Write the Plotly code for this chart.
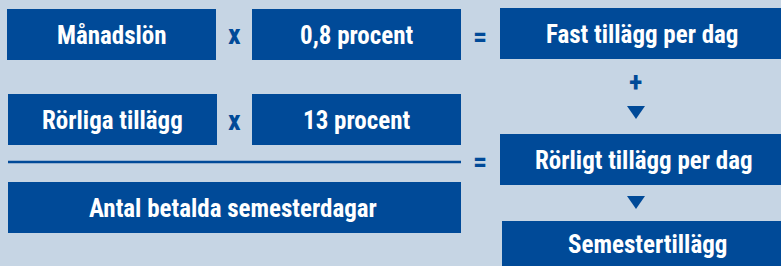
import plotly.graph_objects as go

# Diagram content
box_labels = ["Månadslön", "0,8 procent", "Fast tillägg per dag",
              "Rörliga tillägg", "13 procent", "Rörligt tillägg per dag",
              "Antal betalda semesterdagar", "Semestertillägg"]
# box extents: x0, x1, y0, y1 (pixel space of the 781x266 canvas)
box_x0 = [7, 252, 500, 8, 252, 500, 8, 502]
box_x1 = [216, 461, 781, 217, 461, 781, 461, 781]
box_y0 = [9, 9, 8, 94, 94, 134, 182, 221]
box_y1 = [60, 60, 59, 145, 145, 185, 233, 268]
label_x = [111.5, 356.5, 642, 112.5, 356.5, 644, 233, 647]

op_labels = ["x", "=", "x", "=", "+"]
op_x = [234, 480, 234, 480, 635]
op_y = [34.5, 36, 120.5, 161, 82]

arrow_x = [636, 636]
arrow_y = [106, 196]

BG = "#c6d5e4"
BLUE = "#004a98"
FONT = "Roboto Condensed, DejaVu Sans Condensed, sans-serif"

fig = go.Figure()
fig.add_trace(go.Scatter(x=[0, 781], y=[0, 266], mode="markers",
                         marker=dict(opacity=0), hoverinfo="skip", showlegend=False))

shapes = []
annotations = []
for lab, lx, x0, x1, y0, y1 in zip(box_labels, label_x, box_x0, box_x1, box_y0, box_y1):
    shapes.append(dict(type="rect", xref="x", yref="y", x0=x0, x1=x1, y0=y0, y1=y1,
                       fillcolor=BLUE, line=dict(width=0), layer="above"))
    annotations.append(dict(x=lx, y=(y0 + min(y1, 266)) / 2 + 0.5,
                            xref="x", yref="y", text=lab, showarrow=False,
                            font=dict(family=FONT, size=25, color="white", weight="bold")))

# fraction line
shapes.append(dict(type="line", xref="x", yref="y", x0=8, x1=461, y0=162, y1=162,
                   line=dict(color=BLUE, width=2.5), layer="above"))

for t, x, y in zip(op_labels, op_x, op_y):
    annotations.append(dict(x=x, y=y, xref="x", yref="y", text=t, showarrow=False,
                            font=dict(family=FONT, size=28, color=BLUE, weight="bold")))

for ax, ay in zip(arrow_x, arrow_y):
    shapes.append(dict(type="path", xref="x", yref="y",
                       path=f"M {ax-9},{ay} L {ax+9},{ay} L {ax},{ay+13} Z",
                       fillcolor=BLUE, line=dict(width=0), layer="above"))

fig.update_layout(
    width=781, height=266,
    margin=dict(l=0, r=0, t=0, b=0),
    paper_bgcolor=BG, plot_bgcolor=BG,
    xaxis=dict(range=[0, 781], visible=False, fixedrange=True),
    yaxis=dict(range=[266, 0], visible=False, fixedrange=True),
    shapes=shapes, annotations=annotations,
    showlegend=False,
)
fig.write_html("out.html", config={"displayModeBar": False},
               post_script="document.body.style.margin='0';document.body.style.overflow='hidden';")
